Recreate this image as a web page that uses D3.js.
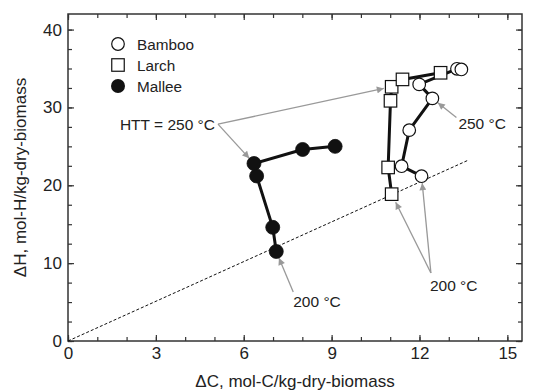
<!DOCTYPE html>
<html>
<head>
<meta charset="utf-8">
<script src="https://cdn.jsdelivr.net/npm/d3@7"></script>
<style>
  html, body { margin: 0; padding: 0; background: #fff; }
  svg { display: block; font-family: "Liberation Sans", Arial, Helvetica, sans-serif; }
</style>
</head>
<body>
<svg id="chart" width="540" height="391"></svg>
<script>
// Hydrogen vs carbon released during torrefaction, by heat-treatment temperature
const malleeC = [7.11, 6.99, 6.44, 6.35, 8.01, 9.12];
const malleeH = [11.5, 14.6, 21.2, 22.8, 24.6, 25.0];

const larchC = [11.05, 10.93, 11.01, 11.05, 11.42, 12.72];
const larchH = [18.86, 22.29, 30.85, 32.65, 33.6, 34.45];

const bambooC = [12.07, 11.39, 11.65, 12.44, 11.99, 13.28, 13.43];
const bambooH = [21.17, 22.45, 27.08, 31.16, 32.96, 34.96, 34.88];

// reference line through the origin
const refLineC = [0, 13.65];
const refLineH = [0, 23.2];

const xTickLabels = [0, 3, 6, 9, 12, 15];
const yTickLabels = [0, 10, 20, 30, 40];
const legendNames = ["Bamboo", "Larch", "Mallee"];

const svg = d3.select("#chart");
const margin = { left: 68, right: 18, top: 14, bottom: 50 };
const W = 540, H = 391;

const x = d3.scaleLinear().domain([0, 15.5]).range([margin.left, W - margin.right]);
const y = d3.scaleLinear().domain([0, 42]).range([H - margin.bottom, margin.top]);

const axisColor = "#333";
const textColor = "#222";
const arrowColor = "#999";
const tickFont = 17, titleFont = 17, noteFont = 15.5, legendFont = 15.3;

// frame ticks (inward) on all four sides
const xMinor = d3.range(0, 15.5 + 1e-9, 1);
const yMinor = d3.range(0, 42 + 1e-9, 2.5);

function styleAxis(g) {
  g.select(".domain").remove();
  g.selectAll(".tick line").attr("stroke", axisColor).attr("stroke-width", 1.2);
  g.selectAll(".tick text").attr("fill", textColor).attr("font-size", tickFont);
}

// bottom
svg.append("g").attr("transform", `translate(0,${y(0)})`)
  .call(d3.axisTop(x).tickValues(xMinor).tickSize(4).tickFormat("")).call(styleAxis);
svg.append("g").attr("transform", `translate(0,${y(0)})`)
  .call(d3.axisBottom(x).tickValues(xTickLabels).tickSize(0).tickPadding(6).tickFormat(d3.format("d"))).call(styleAxis);
svg.append("g").attr("transform", `translate(0,${y(0)})`)
  .call(d3.axisTop(x).tickValues(xTickLabels).tickSize(6).tickFormat("")).call(styleAxis);
// top
svg.append("g").attr("transform", `translate(0,${y(42)})`)
  .call(d3.axisBottom(x).tickValues(xMinor).tickSize(4).tickFormat("")).call(styleAxis);
svg.append("g").attr("transform", `translate(0,${y(42)})`)
  .call(d3.axisBottom(x).tickValues(xTickLabels).tickSize(6).tickFormat("")).call(styleAxis);
// left
svg.append("g").attr("transform", `translate(${x(0)},0)`)
  .call(d3.axisRight(y).tickValues(yMinor).tickSize(4).tickFormat("")).call(styleAxis);
svg.append("g").attr("transform", `translate(${x(0)},0)`)
  .call(d3.axisRight(y).tickValues(yTickLabels).tickSize(6).tickFormat("")).call(styleAxis);
svg.append("g").attr("transform", `translate(${x(0)},0)`)
  .call(d3.axisLeft(y).tickValues(yTickLabels).tickSize(0).tickPadding(6).tickFormat(d3.format("d"))).call(styleAxis);
// right
svg.append("g").attr("transform", `translate(${x(15.5)},0)`)
  .call(d3.axisLeft(y).tickValues(yMinor).tickSize(4).tickFormat("")).call(styleAxis);
svg.append("g").attr("transform", `translate(${x(15.5)},0)`)
  .call(d3.axisLeft(y).tickValues(yTickLabels).tickSize(6).tickFormat("")).call(styleAxis);

// plot frame
svg.append("rect")
  .attr("x", x(0)).attr("y", y(42))
  .attr("width", x(15.5) - x(0)).attr("height", y(0) - y(42))
  .attr("fill", "none").attr("stroke", axisColor).attr("stroke-width", 1.5);

// axis titles
svg.append("text")
  .attr("x", (x(0) + x(15.5)) / 2).attr("y", H - 4)
  .attr("text-anchor", "middle").attr("font-size", titleFont).attr("fill", textColor)
  .text("ΔC, mol-C/kg-dry-biomass");
svg.append("text")
  .attr("transform", `translate(26,${(y(0) + y(42)) / 2}) rotate(-90)`)
  .attr("text-anchor", "middle").attr("font-size", titleFont).attr("fill", textColor)
  .text("ΔH, mol-H/kg-dry-biomass");

// dashed reference line
svg.append("line")
  .attr("x1", x(refLineC[0])).attr("y1", y(refLineH[0]))
  .attr("x2", x(refLineC[1])).attr("y2", y(refLineH[1]))
  .attr("stroke", "#111").attr("stroke-width", 1).attr("stroke-dasharray", "3,2");

// annotation arrows
const defs = svg.append("defs");
defs.append("marker")
  .attr("id", "arrowhead").attr("viewBox", "0 0 10 10")
  .attr("refX", 10).attr("refY", 5)
  .attr("markerWidth", 9).attr("markerHeight", 7)
  .attr("markerUnits", "userSpaceOnUse")
  .attr("orient", "auto")
  .append("path").attr("d", "M0,0 L10,5 L0,10 Z").attr("fill", arrowColor);

function arrow(fromC, fromH, toC, toH, gap) {
  const x1 = x(fromC), y1 = y(fromH), x2 = x(toC), y2 = y(toH);
  const len = Math.hypot(x2 - x1, y2 - y1);
  const ex = x2 - (x2 - x1) / len * gap, ey = y2 - (y2 - y1) / len * gap;
  svg.append("line")
    .attr("x1", x1).attr("y1", y1).attr("x2", ex).attr("y2", ey)
    .attr("stroke", arrowColor).attr("stroke-width", 1.3)
    .attr("marker-end", "url(#arrowhead)");
}

// HTT = 250 °C
const htt250 = [5.12, 27.85];
arrow(htt250[0], htt250[1], malleeC[3], malleeH[3], 7);
arrow(htt250[0], htt250[1], larchC[3], larchH[3], 8);
svg.append("text").attr("x", x(htt250[0]) - 3).attr("y", y(htt250[1]) + 6)
  .attr("text-anchor", "end").attr("font-size", noteFont).attr("fill", textColor)
  .text("HTT = 250 °C");

// bamboo 250 °C
const b250 = [13.26, 28.7];
arrow(b250[0], b250[1], bambooC[3], bambooH[3], 7);
svg.append("text").attr("x", x(b250[0]) + 2).attr("y", y(b250[1]) + 11)
  .attr("text-anchor", "start").attr("font-size", noteFont).attr("fill", textColor)
  .text("250 °C");

// mallee 200 °C
const m200 = [7.69, 6.3];
arrow(m200[0], m200[1], malleeC[0], malleeH[0], 7);
svg.append("text").attr("x", x(m200[0])).attr("y", y(m200[1]) + 15)
  .attr("text-anchor", "start").attr("font-size", noteFont).attr("fill", textColor)
  .text("200 °C");

// larch / bamboo 200 °C
const lb200 = [12.39, 8.74];
arrow(lb200[0], lb200[1], larchC[0], larchH[0], 9);
arrow(lb200[0], lb200[1], bambooC[0], bambooH[0], 7);
svg.append("text").attr("x", x(lb200[0]) - 1).attr("y", y(lb200[1]) + 18)
  .attr("text-anchor", "start").attr("font-size", noteFont).attr("fill", textColor)
  .text("200 °C");

// series
const lineGen = d3.line().x(d => x(d[0])).y(d => y(d[1]));
const mallee = d3.zip(malleeC, malleeH);
const larch = d3.zip(larchC, larchH);
const bamboo = d3.zip(bambooC, bambooH);

function drawLine(pts) {
  svg.append("path").datum(pts).attr("d", lineGen)
    .attr("fill", "none").attr("stroke", "#111").attr("stroke-width", 3)
    .attr("stroke-linejoin", "round");
}
drawLine(mallee);
drawLine(larch);
drawLine(bamboo);

const sq = 12.5, rOpen = 6.3, rFill = 7;
svg.append("g").selectAll("rect").data(larch).join("rect")
  .attr("x", d => x(d[0]) - sq / 2).attr("y", d => y(d[1]) - sq / 2)
  .attr("width", sq).attr("height", sq)
  .attr("fill", "#fff").attr("stroke", "#111").attr("stroke-width", 1.2);
svg.append("g").selectAll("circle").data(bamboo).join("circle")
  .attr("cx", d => x(d[0])).attr("cy", d => y(d[1])).attr("r", rOpen)
  .attr("fill", "#fff").attr("stroke", "#111").attr("stroke-width", 1.2);
svg.append("g").selectAll("circle").data(mallee).join("circle")
  .attr("cx", d => x(d[0])).attr("cy", d => y(d[1])).attr("r", rFill)
  .attr("fill", "#111").attr("stroke", "#111").attr("stroke-width", 0.8);

// legend
const legend = svg.append("g").attr("transform", "translate(118,44)");
legendNames.forEach((name, i) => {
  const g = legend.append("g").attr("transform", `translate(0,${i * 21})`);
  if (name === "Bamboo") {
    g.append("circle").attr("r", rOpen).attr("fill", "#fff").attr("stroke", "#111").attr("stroke-width", 1.2);
  } else if (name === "Larch") {
    g.append("rect").attr("x", -sq / 2).attr("y", -sq / 2).attr("width", sq).attr("height", sq)
      .attr("fill", "#fff").attr("stroke", "#111").attr("stroke-width", 1.2);
  } else {
    g.append("circle").attr("r", rFill).attr("fill", "#111");
  }
  g.append("text").attr("x", 19).attr("y", 5.5)
    .attr("font-size", legendFont).attr("fill", textColor).text(name);
});
</script>
</body>
</html>
